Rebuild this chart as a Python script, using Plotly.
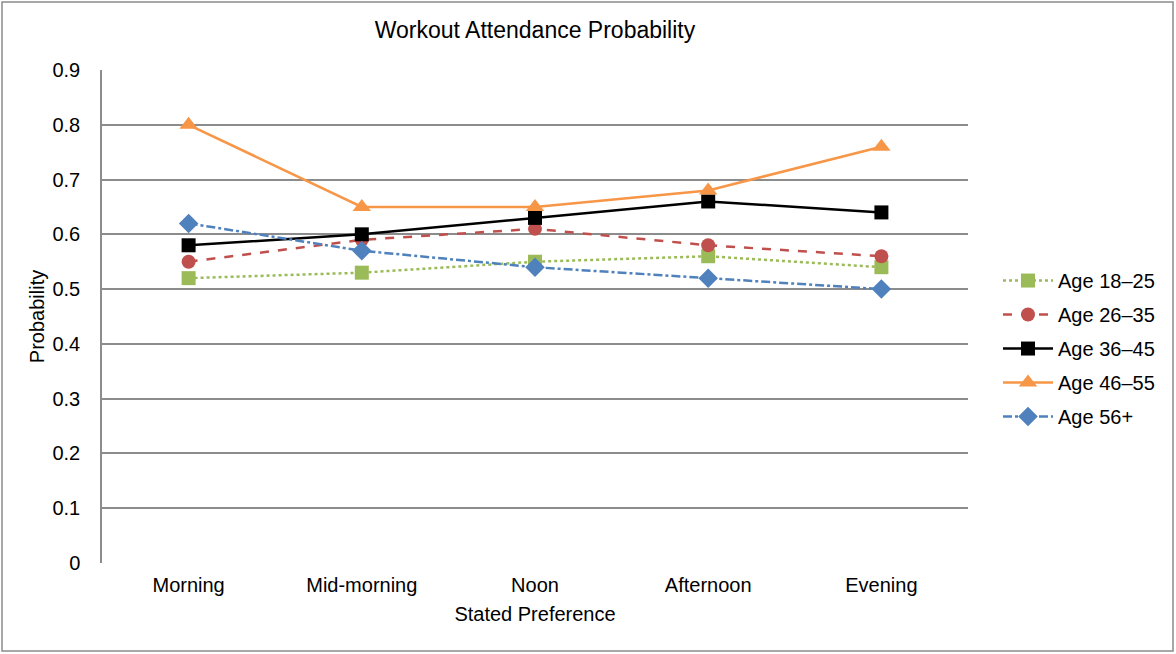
import plotly.graph_objects as go

categories = ["Morning", "Mid-morning", "Noon", "Afternoon", "Evening"]
age_18_25 = [0.52, 0.53, 0.55, 0.56, 0.54]
age_26_35 = [0.55, 0.59, 0.61, 0.58, 0.56]
age_36_45 = [0.58, 0.60, 0.63, 0.66, 0.64]
age_46_55 = [0.80, 0.65, 0.65, 0.68, 0.76]
age_56_plus = [0.62, 0.57, 0.54, 0.52, 0.50]
y_ticks = [0, 0.1, 0.2, 0.3, 0.4, 0.5, 0.6, 0.7, 0.8, 0.9]

W, H = 1176, 654
ML, MR, MT, MB = 102, 208, 70, 91
FONT = "Liberation Sans, Arial, sans-serif"

series = [
    ("Age 18–25", age_18_25, "#9BBB59", "dot", "square", 14),
    ("Age 26–35", age_26_35, "#C0504D", "dash", "circle", 14),
    ("Age 36–45", age_36_45, "#000000", "solid", "square", 14),
    ("Age 46–55", age_46_55, "#F79646", "solid", "triangle-up", 16),
    ("Age 56+", age_56_plus, "#4F81BD", "dashdot", "diamond", 15),
]

fig = go.Figure()
for i, (name, vals, color, dash, sym, size) in enumerate(series):
    fig.add_trace(go.Scatter(
        x=categories, y=vals, name=name, mode="lines+markers",
        legendgroup="g%d" % i,
        line=dict(color=color, width=2.5, dash=dash),
        marker=dict(symbol=sym, size=size, color=color),
    ))

pw = W - ML - MR
ph = H - MT - MB
fig.add_shape(type="rect", xref="paper", yref="paper", layer="below",
              x0=(2 - ML) / pw, x1=(1173 - ML) / pw,
              y0=(H - MB - 651) / ph, y1=(H - MB - 2) / ph,
              line=dict(color="#8C8C8C", width=1.5), fillcolor="rgba(0,0,0,0)")

fig.update_layout(
    width=W, height=H,
    margin=dict(l=ML, r=MR, t=MT, b=MB),
    paper_bgcolor="white", plot_bgcolor="white",
    font=dict(family=FONT, size=20, color="#000000"),
    title=dict(text="Workout Attendance Probability", x=0.5, xref="paper",
               xanchor="center", y=1 - 30 / H, yanchor="middle",
               font=dict(size=23)),
    legend=dict(x=(998 - ML) / pw, xanchor="left", y=0.435, yanchor="middle",
                font=dict(size=20), itemwidth=50, bgcolor="rgba(0,0,0,0)",
                traceorder="grouped", tracegroupgap=5),
    xaxis=dict(title=dict(text="Stated Preference", standoff=11, font=dict(size=20)),
               range=[-0.5, len(categories) - 0.5],
               showgrid=False, showline=False, zeroline=False,
               tickfont=dict(size=20), ticks="", ticklabelstandoff=8),
    yaxis=dict(title=dict(text="Probability", standoff=2, font=dict(size=20)),
               range=[0, 0.9], tickvals=y_ticks,
               ticktext=[("%g" % v) for v in y_ticks],
               showgrid=True, gridcolor="#8C8C8C", gridwidth=1.5,
               showline=True, linecolor="#8C8C8C", linewidth=1.5,
               zeroline=False, tickfont=dict(size=20), ticks="",
               ticklabelstandoff=16),
)

fig.write_html("out.html", config={"displayModeBar": False},
               post_script="document.body.style.margin='0';")
